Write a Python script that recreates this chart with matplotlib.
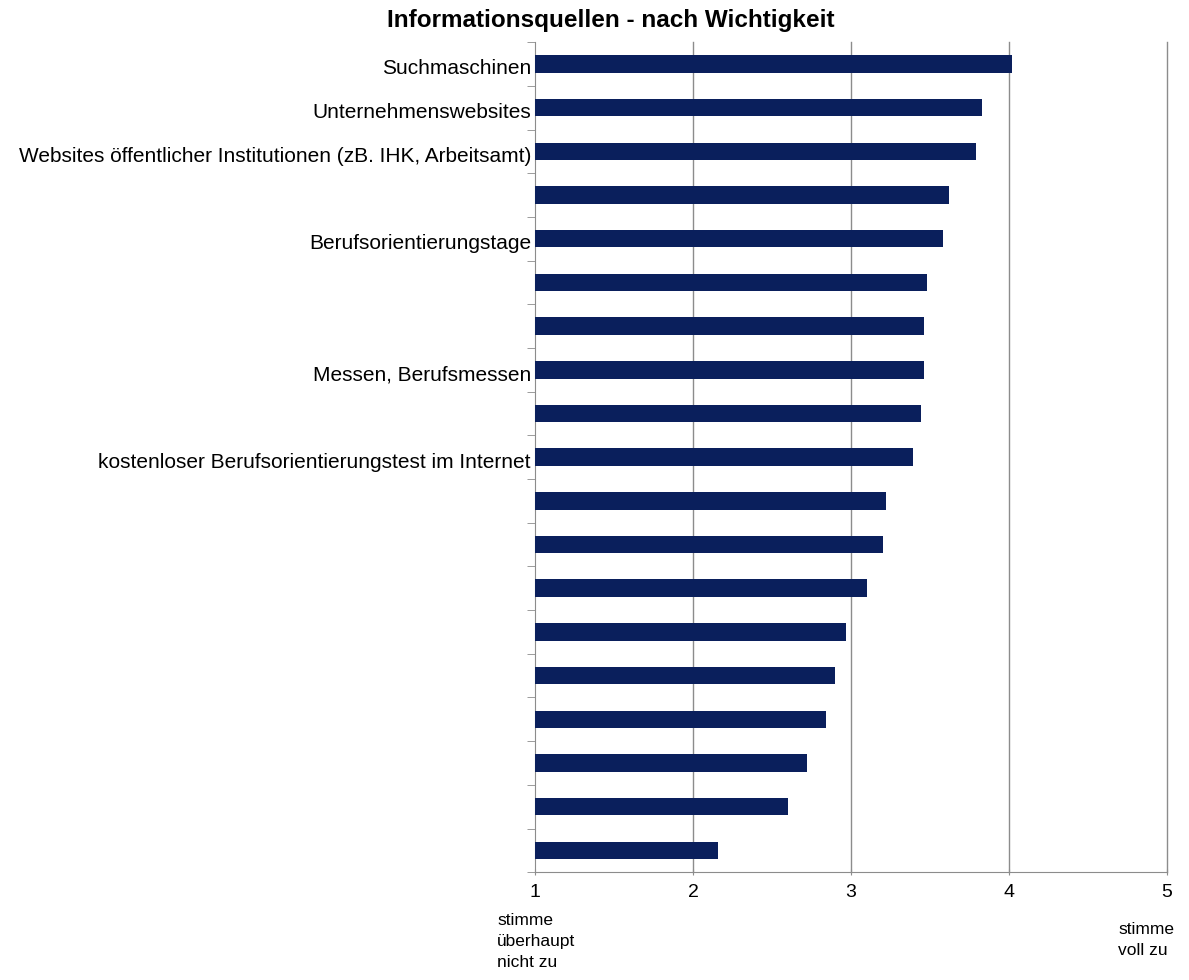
import numpy as np
import matplotlib.pyplot as plt
from matplotlib.transforms import ScaledTranslation

plt.rcParams['font.family'] = ['Liberation Sans', 'DejaVu Sans']

# categories top to bottom (unlabelled ones are blank in the source)
labels = ["Suchmaschinen", "Unternehmenswebsites",
          "Websites öffentlicher Institutionen (zB. IHK, Arbeitsamt)", "",
          "Berufsorientierungstage", "", "", "Messen, Berufsmessen", "",
          "kostenloser Berufsorientierungstest im Internet",
          "", "", "", "", "", "", "", "", ""]
values = [4.02, 3.83, 3.79, 3.62, 3.58, 3.48, 3.46, 3.46, 3.44, 3.39,
          3.22, 3.20, 3.10, 2.97, 2.90, 2.84, 2.72, 2.60, 2.16]
x_ticks = [1, 2, 3, 4, 5]

fig = plt.figure(figsize=(11.89, 9.8), dpi=100)
ax = fig.add_axes([0.45, 0.110, 0.5315, 0.847])

y = np.arange(len(values))
ax.barh(y, np.array(values) - 1, left=1, height=0.4, color='#0a1f5c', zorder=3)

ax.set_xlim(1, 5)
ax.set_ylim(len(values) - 0.5, -0.5)
ax.set_xticks(x_ticks)
ax.set_xticklabels([str(t) for t in x_ticks], fontsize=14)
for t in x_ticks[1:]:
    ax.axvline(t, color='#8c8c8c', lw=1, zorder=1, clip_on=False)

ax.set_yticks(y)
ax.set_yticklabels(labels, fontsize=15)
ax.tick_params(axis='y', length=0, pad=3)
# labels sit a touch below the bar centre in the original
for lab in ax.get_yticklabels():
    lab.set_transform(lab.get_transform() + ScaledTranslation(0, -0.03, fig.dpi_scale_trans))
ax.set_yticks(np.arange(len(values) + 1) - 0.5, minor=True)
ax.tick_params(axis='y', which='minor', length=6, color='#8c8c8c', direction='out')
ax.tick_params(axis='x', length=5, color='#8c8c8c', direction='inout', pad=6)

for s in ['top', 'right']:
    ax.spines[s].set_visible(False)
for s in ['left', 'bottom']:
    ax.spines[s].set_color('#8c8c8c')

fig.text(0.514, 0.979, "Informationsquellen - nach Wichtigkeit", ha='center', va='center',
         fontsize=17.5, fontweight='bold')
fig.text(497 / 1189, 1 - 913 / 980, "stimme\nüberhaupt\nnicht zu", ha='left', va='top',
         fontsize=12.5, linespacing=1.5)
fig.text(1118 / 1189, 1 - 922 / 980, "stimme\nvoll zu", ha='left', va='top',
         fontsize=12.5, linespacing=1.5)

fig.savefig("out.png", dpi=100)
